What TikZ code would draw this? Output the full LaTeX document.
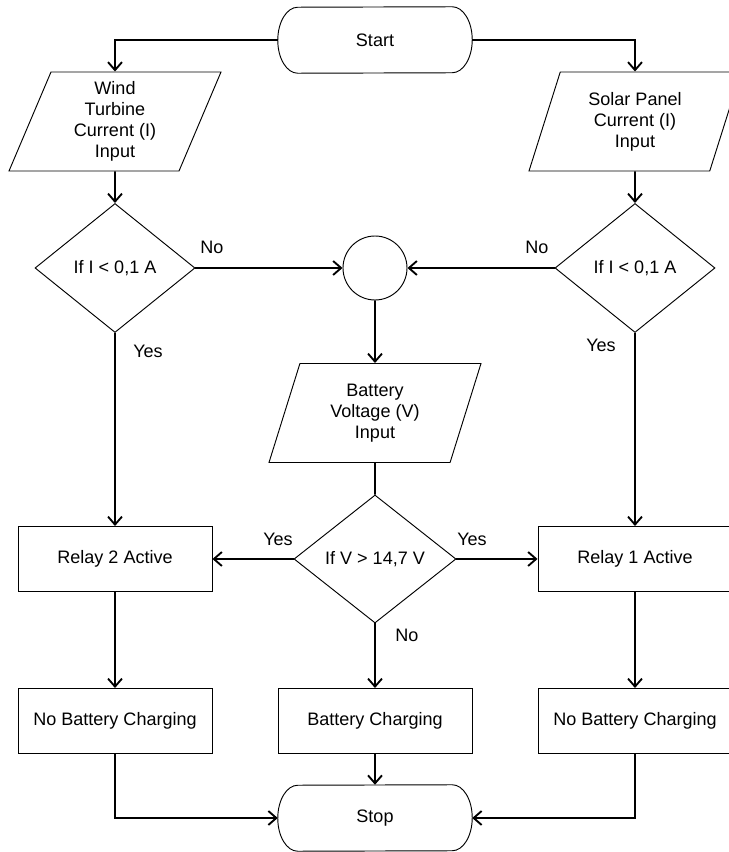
\documentclass[tikz,border=0pt]{standalone}
\usepackage{fontspec}
\setmainfont{Liberation Sans}
\usetikzlibrary{shapes.geometric, arrows.meta}
\tikzset{
  block/.style={rectangle, draw, minimum width=5.82cm, minimum height=1.95cm,
    align=center, line width=0.8pt},
  term/.style={rectangle, minimum width=5.82cm, minimum height=1.98cm},
  io/.style={trapezium, trapezium left angle=63, trapezium right angle=117,
    trapezium stretches body=true, draw, minimum width=6.36cm, minimum height=2.97cm,
    align=center, inner sep=1pt, line width=0.8pt},
  decision/.style={diamond, draw, minimum width=4.8cm, minimum height=3.87cm,
    inner sep=0pt, line width=0.8pt},
  arrow/.style={-{Straight Barb[length=2.4mm, width=4.2mm]}, line width=1.6pt},
  line/.style={line width=1.6pt}
}

\begin{document}
\begin{tikzpicture}[
  font=\fontsize{15.4}{18}\selectfont,
  lbl/.style={inner sep=0pt},
  joint/.style={circle, draw, minimum size=1.92cm, inner sep=0pt, line width=0.8pt}
]
\useasboundingbox (0,0) rectangle (21.87,25.56);
% shapes
\node[term] (start) at (11.25,24.36) {Start};
\node[io] (windin) at (3.45,21.915) {Wind\\Turbine\\Current (I)\\Input};
\node[io] (solarin) at (19.05,21.915) {Solar Panel\\Current (I)\\Input};
\node[decision] (winddec) at (3.45,17.52) {If I < 0,1 A};
\node[decision] (solardec) at (19.05,17.52) {If I < 0,1 A};
\node[joint] (join) at (11.25,17.52) {};
\node[io] (batin) at (11.25,13.17) {Battery\\Voltage (V)\\Input};
\node[decision, minimum width=4.86cm, minimum height=3.84cm] (vdec) at (11.25,8.79) {If V > 14,7 V};
\node[block] (relay2) at (3.45,8.79) {Relay 2 Active};
\node[block] (relay1) at (19.05,8.79) {Relay 1 Active};
\node[block] (nocharge2) at (3.45,3.93) {No Battery Charging};
\node[block] (charge) at (11.25,3.93) {Battery Charging};
\node[block] (nocharge1) at (19.05,3.93) {No Battery Charging};
\node[term] (stop) at (11.25,1.02) {Stop};
% terminal outlines
\foreach \t in {start, stop}
  \draw[line width=0.8pt] ([xshift=-0.6cm]\t.north east)
    arc[start angle=90, end angle=-90, x radius=0.6cm, y radius=0.99cm]
    -- ([xshift=0.6cm]\t.south west)
    arc[start angle=270, end angle=90, x radius=0.6cm, y radius=0.99cm] -- cycle;
% labels
\node[lbl] (nol) at (6.36,18.15) {No};
\node[lbl] (nor) at (16.11,18.15) {No};
\node[lbl] (yesl) at (4.44,15.03) {Yes};
\node[lbl] (yesr) at (18.03,15.21) {Yes};
\node[lbl] (yesvl) at (8.34,9.39) {Yes};
\node[lbl] (yesvr) at (14.16,9.39) {Yes};
\node[lbl] (nov) at (12.21,6.51) {No};
% connectors
\draw[arrow] (start.west) -| (windin.north);
\draw[arrow] (start.east) -| (solarin.north);
\draw[arrow] (windin.south) -- (winddec.north);
\draw[arrow] (solarin.south) -- (solardec.north);
\draw[arrow] (winddec.east) -- (join.west);
\draw[arrow] (solardec.west) -- (join.east);
\draw[arrow] (join.south) -- (batin.north);
\draw[line] (batin.south) -- (vdec.north);
\draw[arrow] (winddec.south) -- (relay2.north);
\draw[arrow] (solardec.south) -- (relay1.north);
\draw[arrow] (vdec.west) -- (relay2.east);
\draw[arrow] (vdec.east) -- (relay1.west);
\draw[arrow] (vdec.south) -- (charge.north);
\draw[arrow] (relay2.south) -- (nocharge2.north);
\draw[arrow] (relay1.south) -- (nocharge1.north);
\draw[arrow] (charge.south) -- (stop.north);
\draw[arrow] (nocharge2.south) |- (stop.west);
\draw[arrow] (nocharge1.south) |- (stop.east);
\end{tikzpicture}
\end{document}
